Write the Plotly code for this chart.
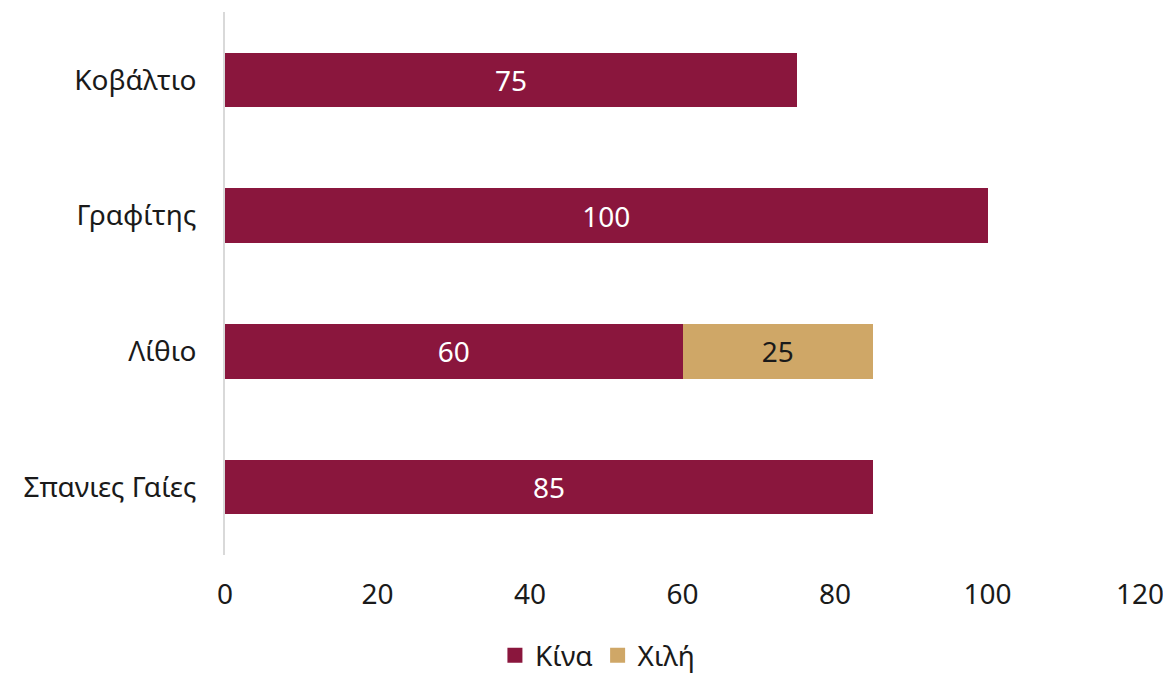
import plotly.graph_objects as go

categories = ["Κοβάλτιο", "Γραφίτης", "Λίθιο", "Σπανιες Γαίες"]
china = [75, 100, 60, 85]
chile = [None, None, 25, None]
x_ticks = [0, 20, 40, 60, 80, 100, 120]

FONT = "Noto Sans"
RED = "#8A163D"
GOLD = "#CFA767"
SIZE = 28

fig = go.Figure()
fig.add_trace(go.Bar(
    y=categories, x=china, orientation="h", name="Κίνα", showlegend=False,
    marker=dict(color=RED, line=dict(width=0)),
    text=china, textposition="inside", insidetextanchor="middle",
    textfont=dict(color="white", size=SIZE, family=FONT),
))
fig.add_trace(go.Bar(
    y=categories, x=chile, orientation="h", name="Χιλή", showlegend=False,
    marker=dict(color=GOLD, line=dict(width=0)),
    text=[("" if v is None else v) for v in chile], textposition="inside", insidetextanchor="middle",
    textfont=dict(color="#1a1a1a", size=SIZE, family=FONT),
))
# legend-only entries with square markers
for name, col in [("Κίνα", RED), ("Χιλή", GOLD)]:
    fig.add_trace(go.Scatter(
        x=[None], y=[None], mode="markers", name=name,
        marker=dict(symbol="square", size=15, color=col),
    ))

fig.update_layout(
    width=1171, height=690,
    barmode="stack", bargap=0.6,
    plot_bgcolor="white", paper_bgcolor="white",
    margin=dict(l=217, r=39, t=4, b=143),
    font=dict(family=FONT, size=SIZE, color="#1a1a1a"),
    xaxis=dict(range=[0, 120], tickvals=x_ticks, showgrid=False, zeroline=False,
               showline=False, ticks="", ticklabelstandoff=20, automargin=False,
               tickfont=dict(size=SIZE, family=FONT, color="#1a1a1a")),
    yaxis=dict(categoryorder="array", categoryarray=categories[::-1],
               showgrid=False, zeroline=False, showline=True, automargin=False,
               linecolor="#D9D9D9", linewidth=2, ticks="", ticklabelstandoff=21,
               tickfont=dict(size=SIZE, family=FONT, color="#1a1a1a")),
    legend=dict(orientation="h", x=0.295, xanchor="left", y=-0.185, yanchor="middle",
                font=dict(size=SIZE, family=FONT, color="#1a1a1a"),
                itemwidth=30, traceorder="normal"),
)

fig.write_html("out.html")
